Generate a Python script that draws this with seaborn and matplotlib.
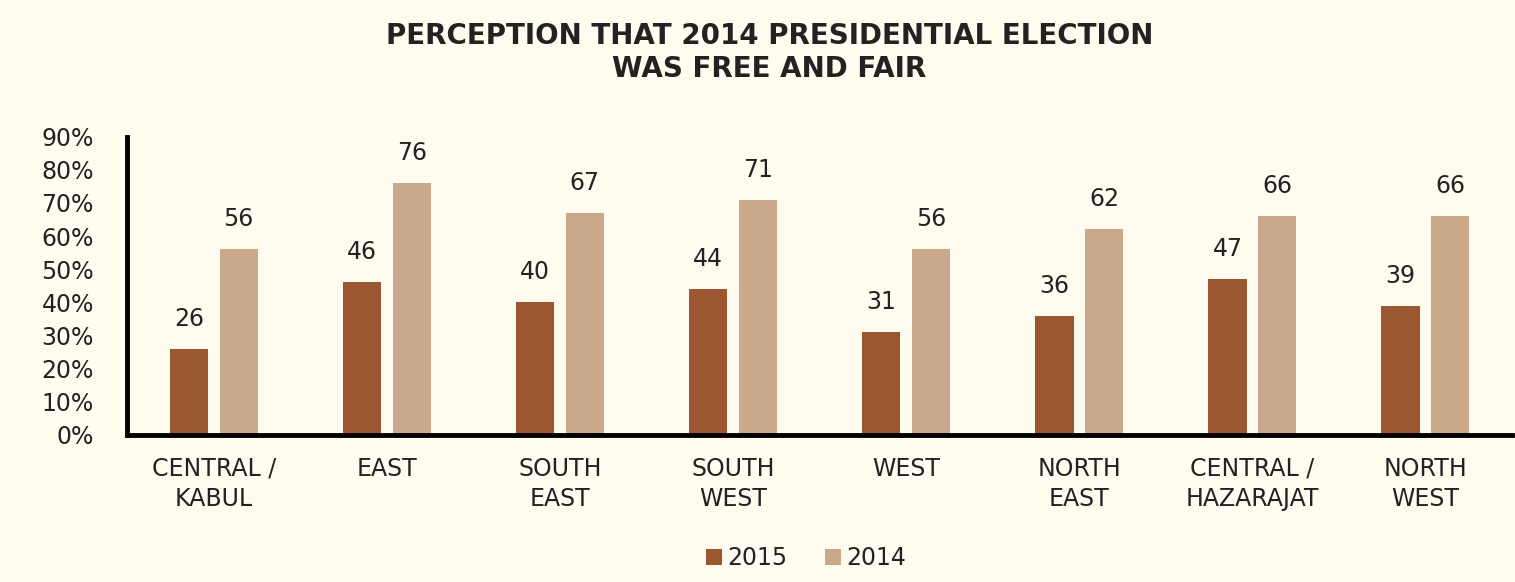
import pandas as pd
import numpy as np
import seaborn as sns
import matplotlib.pyplot as plt

# data
regions = ["CENTRAL /\nKABUL", "EAST", "SOUTH\nEAST", "SOUTH\nWEST", "WEST",
           "NORTH\nEAST", "CENTRAL /\nHAZARAJAT", "NORTH\nWEST"]
vals_2015 = [26, 46, 40, 44, 31, 36, 47, 39]
vals_2014 = [56, 76, 67, 71, 56, 62, 66, 66]
years = ["2015", "2014"]
yticks = [0, 10, 20, 30, 40, 50, 60, 70, 80, 90]

df = pd.DataFrame({
    "region": regions * 2,
    "year": ["2015"] * len(regions) + ["2014"] * len(regions),
    "value": vals_2015 + vals_2014,
})

bg = "#FFFCEF"
txt = "#222222"
plt.rcParams["font.family"] = ["DejaVu Sans"]

fig = plt.figure(figsize=(15.15, 5.82), dpi=100, facecolor=bg)
ax = fig.add_axes([0.084, 0.253, 0.914, 0.512], facecolor=bg)

sns.barplot(data=df, x="region", y="value", hue="year", hue_order=years,
            palette=["#9B5730", "#C9A98A"], saturation=1, width=0.575, gap=0.23,
            ax=ax, legend=True)

for c in ax.containers:
    ax.bar_label(c, padding=13, fontsize=17, color=txt)

ax.set_xlim(-0.5, 7.5)
ax.set_ylim(0, 90)
ax.set_yticks(yticks)
ax.set_yticklabels([f"{t}%" for t in yticks])
ax.tick_params(axis="both", length=0, labelsize=17, colors=txt)
ax.tick_params(axis="x", pad=16)
ax.tick_params(axis="y", pad=24)
for lbl in ax.get_xticklabels():
    lbl.set_linespacing(1.3)
ax.set_xlabel("")
ax.set_ylabel("")
for s in ["top", "right"]:
    ax.spines[s].set_visible(False)
for s in ["left", "bottom"]:
    ax.spines[s].set_linewidth(3.5)
    ax.spines[s].set_color("black")

leg = ax.legend(loc="center", bbox_to_anchor=(0.49, -0.415), ncol=2,
                frameon=False, fontsize=17, handlelength=0.7, handleheight=0.7,
                columnspacing=1.6, handletextpad=0.2)
for t in leg.get_texts():
    t.set_color(txt)

fig.text(0.508, 0.91, "PERCEPTION THAT 2014 PRESIDENTIAL ELECTION\nWAS FREE AND FAIR",
         ha="center", va="center", fontsize=20, fontweight="bold",
         color=txt, linespacing=1.25)

plt.savefig("out.png", dpi=100, facecolor=bg)
